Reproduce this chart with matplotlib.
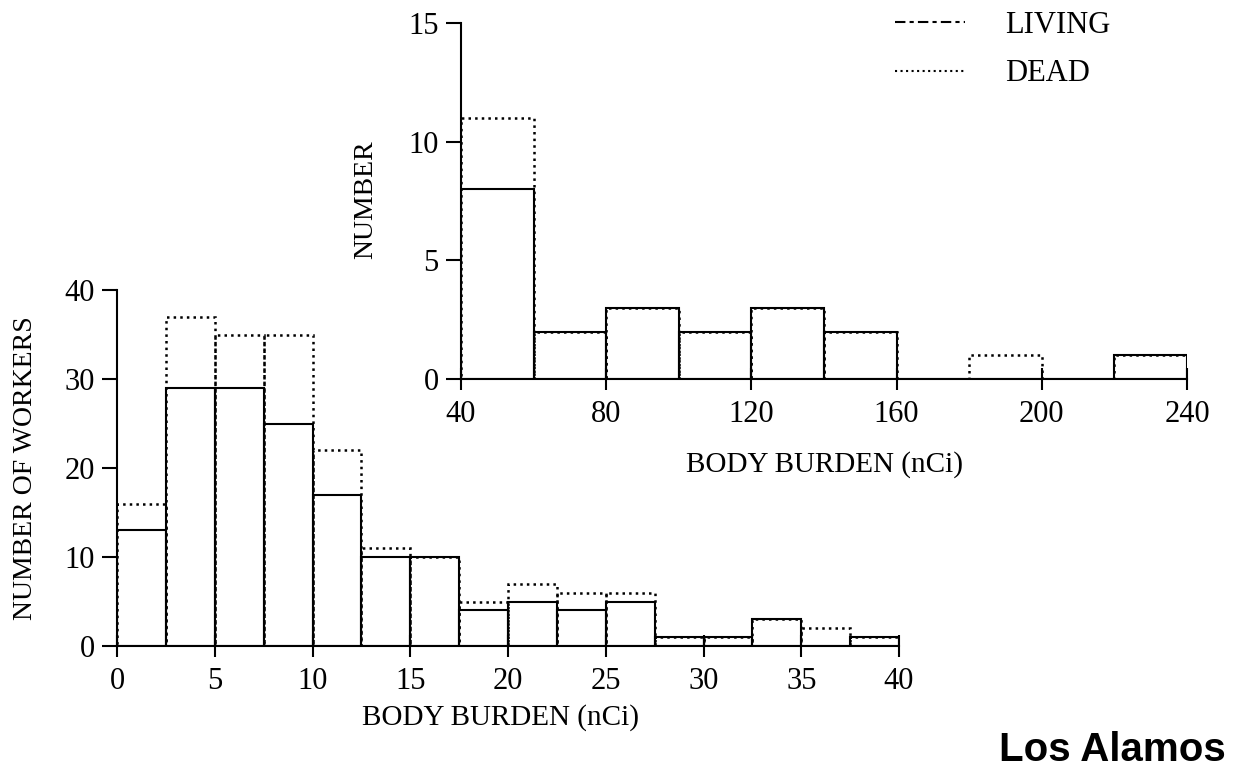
import numpy as np
from matplotlib import pyplot as plt
from matplotlib.lines import Line2D

plt.rcParams['font.family'] = ['Liberation Serif', 'DejaVu Serif']

# main histogram, 2.5 nCi bins
main_edges = np.arange(0, 42.5, 2.5)
main_living = [13, 29, 29, 25, 17, 10, 10, 4, 5, 4, 5, 1, 1, 3, 0, 1]
main_dead = [16, 37, 35, 35, 22, 11, 10, 5, 7, 6, 6, 1, 1, 3, 2, 1]

# inset histogram, 20 nCi bins
inset_edges = np.arange(40, 260, 20)
inset_living = [8, 2, 3, 2, 3, 2, 0, 0, 0, 1]
inset_dead = [11, 2, 3, 2, 3, 2, 0, 1, 0, 1]


def draw_hist(ax, edges, living, dead):
    """draws dead (dotted) and living (solid) outlines"""
    w = np.diff(edges)
    ax.bar(edges[:-1], dead, width=w, align='edge', fill=False,
           edgecolor='black', linestyle=':', linewidth=1.8)
    ax.bar(edges[:-1], living, width=w, align='edge', fill=False,
           edgecolor='black', linewidth=1.5)


def style(ax, xlim, ylim, xticks, yticks):
    ax.set_facecolor('none')
    ax.set(xlim=xlim, ylim=ylim, xticks=xticks, yticks=yticks)
    for side in ('top', 'right'):
        ax.spines[side].set_visible(False)
    for side in ('left', 'bottom'):
        ax.spines[side].set_linewidth(1.5)
    ax.tick_params(axis='x', direction='inout', length=16, width=1.5, pad=7, labelsize=22)
    ax.tick_params(axis='y', direction='out', length=11, width=1.5, pad=5, labelsize=22)


fig = plt.figure(figsize=(12.38, 7.73), dpi=100)
main = fig.add_axes([0.0945, 0.1643, 0.6317, 0.4605])
inset = fig.add_axes([0.3724, 0.5097, 0.5864, 0.4605])

draw_hist(main, main_edges, main_living, main_dead)
style(main, [0, 40], [0, 40], np.arange(0, 45, 5), np.arange(0, 50, 10))
main.set_xlabel('BODY BURDEN (nCi)', fontsize=21, va='center')
main.xaxis.set_label_coords(0.49, -0.2)
main.set_ylabel('NUMBER OF WORKERS', fontsize=20, va='center')
main.yaxis.set_label_coords(-0.1176, 0.5)

draw_hist(inset, inset_edges, inset_living, inset_dead)
style(inset, [40, 240], [0, 15], np.arange(40, 280, 40), np.arange(0, 20, 5))
inset.set_xlabel('BODY BURDEN (nCi)', fontsize=21, va='center')
inset.xaxis.set_label_coords(0.5, -0.2416)
inset.set_ylabel('NUMBER', fontsize=20, va='center')
inset.yaxis.set_label_coords(-0.132, 0.503)

handles = [Line2D([], [], color='black', lw=1.5, linestyle=(0, (5, 2, 2, 2))),
           Line2D([], [], color='black', lw=1.5, linestyle=':')]
fig.legend(handles, ['LIVING', 'DEAD'], loc='upper left', bbox_to_anchor=(0.723, 0.986),
           frameon=False, fontsize=22, handlelength=2.3, handletextpad=1.3,
           labelspacing=0.64, borderpad=0, borderaxespad=0)

fig.text(0.99, 0.03, 'Los Alamos', ha='right', va='center', fontsize=29,
         fontweight='bold', family=['Liberation Sans', 'DejaVu Sans'])

plt.savefig('out.png')
